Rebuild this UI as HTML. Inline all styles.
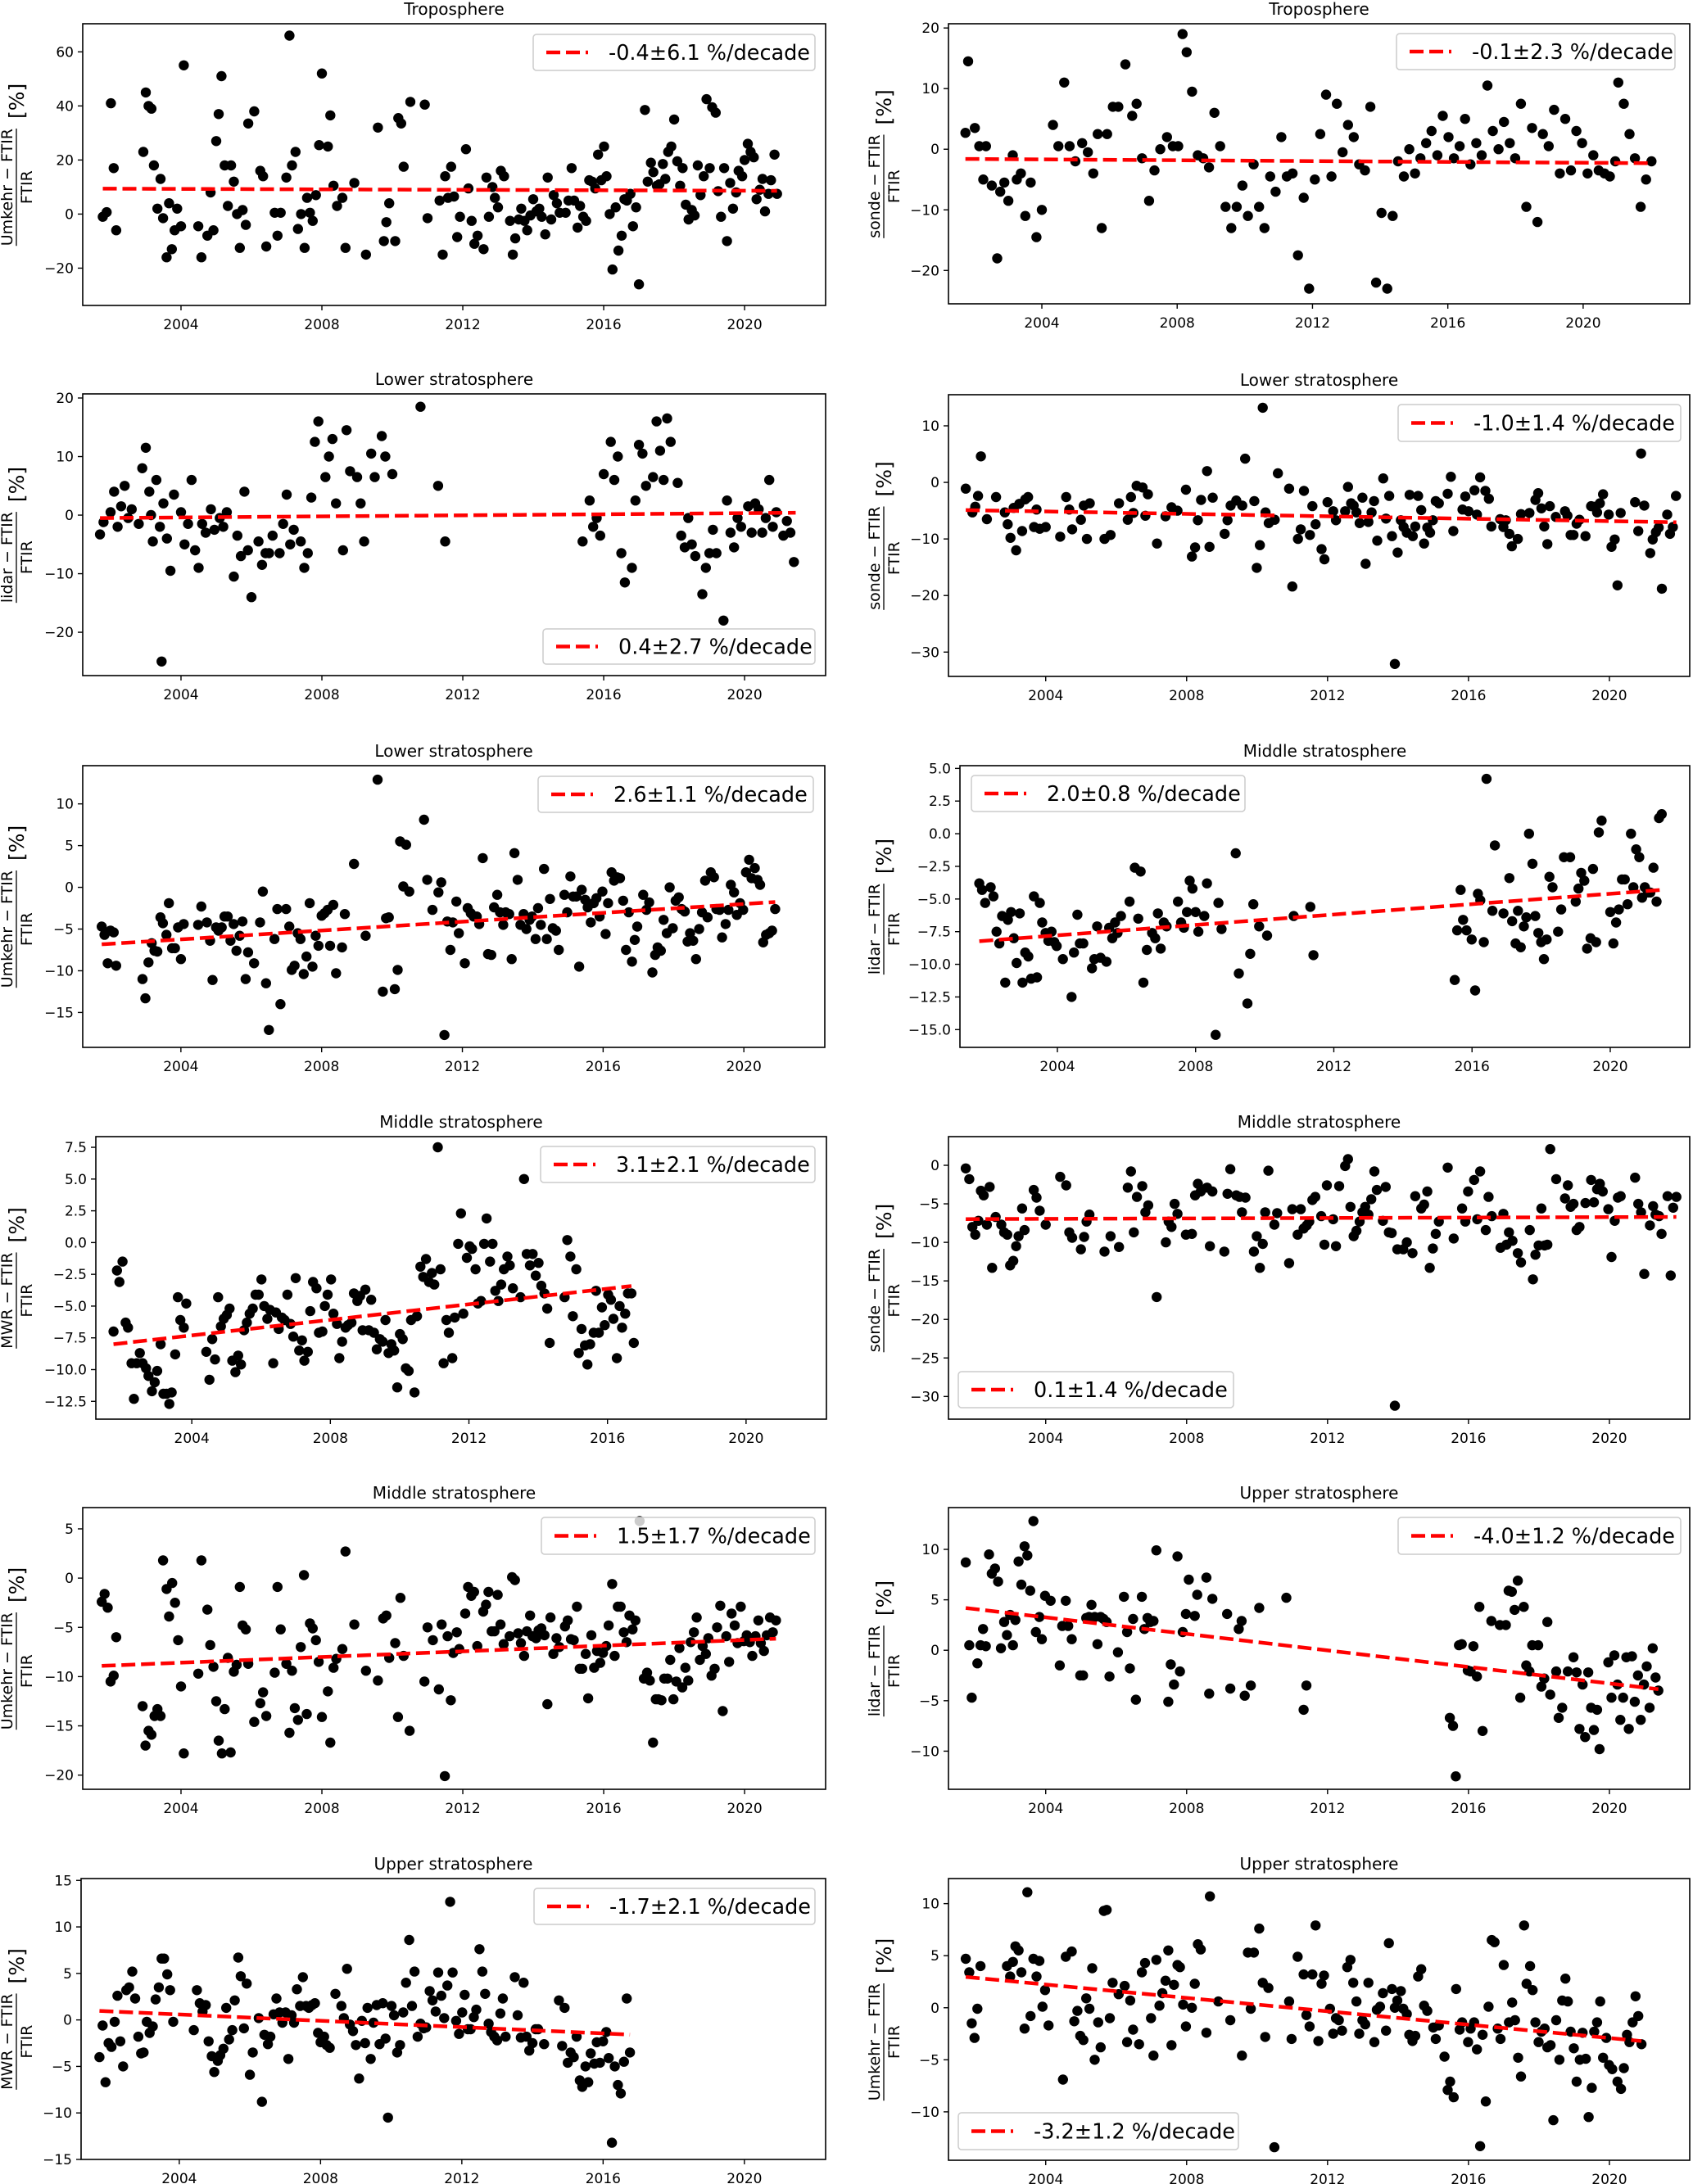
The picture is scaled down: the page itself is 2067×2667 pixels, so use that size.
<!DOCTYPE html>
<html><head><meta charset="utf-8"><title>Ozone comparison trends</title>
<style>
html,body{margin:0;padding:0;background:#fff;}
svg{display:block;font-family:"DejaVu Sans","Liberation Sans",sans-serif;}
</style></head>
<body>
<svg id="fig" xmlns="http://www.w3.org/2000/svg" width="2067" height="2667" viewBox="0 0 2067 2667">
<rect x="0" y="0" width="2067" height="2667" fill="#fff"/>
</svg>
<script>
// ---------- DATA: [year, value %] ----------
const tropoUmkehrYears=[2001.78,2001.89,2002.01,2002.09,2002.16,2002.93,2003.0,2003.08,2003.16,2003.23,2003.33,2003.42,2003.49,2003.59,2003.66,2003.74,2003.82,2003.89,2004.0,2004.08,2004.49,2004.58,2004.75,2004.84,2004.92,2005.0,2005.07,2005.15,2005.24,2005.33,2005.42,2005.5,2005.59,2005.67,2005.75,2005.84,2005.91,2006.08,2006.25,2006.33,2006.42,2006.66,2006.74,2006.83,2006.99,2007.08,2007.15,2007.25,2007.32,2007.41,2007.51,2007.58,2007.66,2007.74,2007.83,2007.92,2008.0,2008.17,2008.24,2008.33,2008.43,2008.58,2008.67,2008.92,2009.25,2009.59,2009.76,2009.83,2009.91,2010.08,2010.17,2010.25,2010.32,2010.51,2010.92,2011.0,2011.34,2011.43,2011.5,2011.58,2011.67,2011.75,2011.84,2011.92,2012.09,2012.16,2012.25,2012.33,2012.42,2012.59,2012.67,2012.74,2012.84,2012.91,2013.0,2013.08,2013.17,2013.34,2013.42,2013.49,2013.59,2013.66,2013.75,2013.83,2013.92,2014.0,2014.09,2014.17,2014.24,2014.34,2014.41,2014.51,2014.58,2014.67,2014.75,2014.92,2015.0,2015.09,2015.16,2015.26,2015.33,2015.42,2015.5,2015.59,2015.67,2015.76,2015.84,2015.93,2016.01,2016.08,2016.17,2016.25,2016.34,2016.42,2016.51,2016.59,2016.66,2016.76,2016.83,2016.92,2017.0,2017.17,2017.25,2017.34,2017.41,2017.51,2017.58,2017.68,2017.75,2017.83,2017.92,2018.0,2018.09,2018.17,2018.24,2018.33,2018.41,2018.5,2018.58,2018.67,2018.75,2018.84,2018.92,2019.01,2019.08,2019.18,2019.25,2019.33,2019.42,2019.5,2019.59,2019.67,2019.76,2019.83,2019.93,2020.0,2020.09,2020.17,2020.26,2020.34,2020.43,2020.51,2020.58,2020.68,2020.75,2020.85,2020.92];
const tropoUmkehrValues=[-1,0.7,41,17,-6,23,45,40,39,18,2,13,-1.5,-16,4,-13,-6,2,-4.5,55,-4.5,-16,-8,8,-6,27,37,51,18,3,18,12,0,-12.5,1.5,-4,33.5,38,16,14,-12,0.5,-8,0.5,13.5,66,18,23,-5.5,0,-12.5,6,0.5,-2.5,7,25.5,52,25,36.5,10.5,3,6,-12.5,11.5,-15,32,-10,-3,4,-10,35.5,33.5,17.5,41.5,40.5,-1.5,5,-15,14,6,17.5,6.5,-8.5,-1,24,9.5,-2.5,-11,-8,-13,13.5,-1,10,6,2.5,16,14,-2.5,-15,-9,-2,2,-2.5,-6,-0.5,5.5,1,2,-1,-7.5,13.5,-2,7,4,0.5,0.5,5,17,5,-5,3,-1,-2.5,12.5,12,9.5,22,12.5,25,14,0,-20.5,2.5,-13.5,-8,5.5,5,7.5,-4.5,2.5,-26,38.5,12,19,15.5,10.5,11,18.5,13,23,25,35,19.5,10.5,17,3.5,-2,1.5,-0.5,18,7,14,42.5,17,39.5,37.5,8.5,-1,17,-10,11.5,2,8,16,14,20,26,23,21,5.5,9,13,1,7.5,12.5,22,7.5];

const tropoSondePoints=[[2001.74,2.7],[2001.82,14.5],[2002.02,3.5],[2002.15,0.5],[2002.27,-5],[2002.35,0.5],[2002.52,-6],[2002.68,-18],[2002.77,-7],[2002.89,-5.5],[2003.01,-8.5],[2003.14,-1],[2003.26,-5],[2003.38,-4],[2003.51,-11],[2003.67,-5.5],[2003.84,-14.5],[2004.0,-10],[2004.33,4],[2004.49,0.5],[2004.66,11],[2004.82,0.5],[2004.99,-2],[2005.19,1],[2005.36,-0.5],[2005.52,-4],[2005.65,2.5],[2005.77,-13],[2005.93,2.5],[2006.1,7],[2006.26,7],[2006.47,14],[2006.67,5.5],[2006.8,7.5],[2006.96,-1.5],[2007.17,-8.5],[2007.33,-3.5],[2007.5,0],[2007.7,2],[2007.87,0.5],[2008.03,0.5],[2008.16,19],[2008.28,16],[2008.44,9.5],[2008.61,-1],[2008.77,-1.5],[2008.94,-3],[2009.1,6],[2009.27,0.5],[2009.43,-9.5],[2009.6,-13],[2009.76,-9.5],[2009.93,-6],[2010.09,-11],[2010.26,-2.5],[2010.42,-9.5],[2010.58,-13],[2010.75,-4.5],[2010.91,-7],[2011.08,2],[2011.24,-4.5],[2011.41,-4],[2011.57,-17.5],[2011.74,-8],[2011.9,-23],[2012.07,-5],[2012.23,2.5],[2012.4,9],[2012.56,-4.5],[2012.72,7.5],[2012.89,-0.5],[2013.05,4],[2013.22,2],[2013.38,-2.5],[2013.55,-3.5],[2013.71,7],[2013.88,-22],[2014.04,-10.5],[2014.21,-23],[2014.37,-11],[2014.53,-2],[2014.7,-4.5],[2014.86,0],[2015.03,-4],[2015.19,-1.5],[2015.36,1],[2015.52,3],[2015.69,-1],[2015.85,5.5],[2016.02,2],[2016.18,-1.5],[2016.35,0.5],[2016.51,5],[2016.67,-2.5],[2016.84,1],[2017.0,-1],[2017.17,10.5],[2017.33,3],[2017.5,0],[2017.66,4.5],[2017.83,1],[2017.99,-1.5],[2018.16,7.5],[2018.32,-9.5],[2018.49,3.5],[2018.65,-12],[2018.81,2.5],[2018.98,0.5],[2019.14,6.5],[2019.31,-4],[2019.47,5],[2019.64,-3.5],[2019.8,3],[2019.97,1],[2020.13,-4],[2020.3,-1],[2020.46,-3.5],[2020.63,-4],[2020.79,-4.5],[2020.95,-2],[2021.04,11],[2021.2,7.5],[2021.37,2.5],[2021.53,-1.5],[2021.7,-9.5],[2021.86,-5],[2022.02,-2]];

const lowLidarPoints=[[2001.7,-3.3],[2001.8,-1.2],[2002.0,0.5],[2002.1,4],[2002.2,-2],[2002.3,1.5],[2002.4,5],[2002.5,-0.5],[2002.6,1],[2002.8,-1.5],[2002.9,8],[2003.0,11.5],[2003.1,4],[2003.15,0],[2003.2,-4.5],[2003.3,6],[2003.4,-2],[2003.45,-25],[2003.5,2],[2003.6,-4],[2003.7,-9.5],[2003.8,3.5],[2004.0,0.5],[2004.1,-5],[2004.2,-1.5],[2004.3,6],[2004.4,-6],[2004.5,-9],[2004.6,-1.5],[2004.7,-3],[2004.85,1],[2004.95,-2.5],[2005.1,-0.5],[2005.2,-2],[2005.3,0.5],[2005.5,-10.5],[2005.6,-3.5],[2005.7,-7],[2005.8,4],[2005.9,-6],[2006.0,-14],[2006.2,-4.5],[2006.3,-8.5],[2006.4,-6.5],[2006.5,-6.5],[2006.6,-3.5],[2006.8,-6.5],[2006.9,-1.5],[2007.0,3.5],[2007.1,-5],[2007.2,-2.5],[2007.4,-4.5],[2007.5,-9],[2007.6,-6.5],[2007.7,3],[2007.8,12.5],[2007.9,16],[2008.1,6.5],[2008.2,10],[2008.3,13],[2008.4,2],[2008.6,-6],[2008.7,14.5],[2008.8,7.5],[2009.0,6.5],[2009.1,2],[2009.2,-4.5],[2009.4,10.5],[2009.5,6.5],[2009.7,13.5],[2009.8,10],[2010.0,7],[2010.8,18.5],[2011.3,5],[2011.5,-4.5],[2015.4,-4.5],[2015.6,2.5],[2015.7,-2],[2015.8,-0.5],[2015.9,-3.5],[2016.0,7],[2016.2,12.5],[2016.3,6],[2016.4,10],[2016.5,-6.5],[2016.6,-11.5],[2016.8,-9],[2016.9,2.5],[2017.0,12],[2017.1,10.5],[2017.2,5],[2017.4,6.5],[2017.5,16],[2017.6,11],[2017.7,6],[2017.8,16.5],[2017.9,12.5],[2018.1,5.5],[2018.2,-3.5],[2018.3,-5.5],[2018.4,-0.5],[2018.5,-5],[2018.6,-7],[2018.8,-13.5],[2018.9,-9],[2019.0,-6.5],[2019.1,-2.5],[2019.2,-6.5],[2019.4,-18],[2019.5,2.5],[2019.6,-3],[2019.7,-5.5],[2019.8,-0.5],[2019.9,-2],[2020.1,1.5],[2020.2,-3],[2020.3,2],[2020.4,1],[2020.5,-3],[2020.6,-0.5],[2020.7,6],[2020.8,-2],[2020.9,0.5],[2021.1,-3.5],[2021.2,-1],[2021.3,-3],[2021.4,-8]];

const lowSondePoints=[[2001.73,-1.1],[2001.92,-5.3],[2002.0,-4.3],[2002.08,-2.4],[2002.16,4.6],[2002.33,-6.5],[2002.59,-2.6],[2002.84,-5.3],[2002.92,-7.4],[2003.0,-9.8],[2003.09,-4.5],[2003.16,-12],[2003.25,-3.8],[2003.33,-8.6],[2003.42,-3],[2003.5,-2.6],[2003.67,-7.9],[2003.74,-4.8],[2003.83,-8.2],[2004.0,-7.9],[2004.41,-9.6],[2004.58,-2.6],[2004.67,-4.8],[2004.75,-8.3],[2005.0,-6.6],[2005.08,-4.1],[2005.17,-10],[2005.25,-3.7],[2005.67,-10],[2005.84,-9.3],[2006.08,-3.7],[2006.33,-6.6],[2006.42,-2.6],[2006.49,-5.4],[2006.58,-0.6],[2006.75,-0.9],[2006.83,-5.9],[2006.9,-2.1],[2007.16,-10.8],[2007.4,-6],[2007.57,-4.4],[2007.74,-5],[2007.98,-1.3],[2008.15,-13.1],[2008.24,-11.5],[2008.32,-6.7],[2008.41,-3.1],[2008.58,2],[2008.65,-11.4],[2008.74,-2.7],[2009.08,-9.1],[2009.16,-6.7],[2009.25,-4.1],[2009.41,-3.2],[2009.58,-4.1],[2009.66,4.2],[2009.92,-3.3],[2009.99,-15.1],[2010.08,-11.1],[2010.16,13.2],[2010.24,-5.3],[2010.33,-7.2],[2010.5,-6.6],[2010.59,1.6],[2010.91,-1.1],[2011.0,-18.4],[2011.16,-10],[2011.24,-8.3],[2011.33,-1.5],[2011.5,-9.3],[2011.57,-4.2],[2011.66,-7.4],[2011.83,-11.8],[2011.91,-13.6],[2012.0,-3.5],[2012.16,-5.1],[2012.24,-6.7],[2012.5,-5.1],[2012.58,-0.8],[2012.67,-3.7],[2012.74,-4.1],[2012.82,-5.3],[2012.91,-7.2],[2012.99,-2.7],[2013.08,-14.4],[2013.16,-7],[2013.25,-5.3],[2013.32,-3.3],[2013.41,-10.3],[2013.58,0.7],[2013.66,-6.4],[2013.75,-2.4],[2013.83,-9.5],[2013.91,-32.1],[2013.99,-12.4],[2014.08,-6.7],[2014.16,-7.9],[2014.25,-8.9],[2014.33,-2.2],[2014.42,-9.5],[2014.49,-7.8],[2014.57,-2.4],[2014.66,-4.9],[2014.74,-10.8],[2014.83,-8],[2014.91,-8.9],[2014.99,-6.7],[2015.07,-3.3],[2015.16,-3.7],[2015.41,-2],[2015.5,1],[2015.57,-8.6],[2015.83,-4.8],[2015.91,-2.5],[2016.0,-5.1],[2016.17,-1.4],[2016.24,-5.7],[2016.33,0.9],[2016.48,-1.5],[2016.58,-2.9],[2016.65,-7.8],[2016.9,-6.5],[2016.99,-7.9],[2017.06,-6.7],[2017.16,-9.1],[2017.23,-11.3],[2017.4,-10],[2017.49,-5.6],[2017.73,-5.4],[2017.9,-3.1],[2017.98,-1.9],[2018.07,-4.6],[2018.15,-7.8],[2018.24,-10.9],[2018.31,-4.2],[2018.48,-6.1],[2018.74,-5.1],[2018.81,-5.9],[2018.9,-9.3],[2018.98,-9.3],[2019.07,-7.3],[2019.15,-6.6],[2019.32,-9.5],[2019.48,-4.2],[2019.56,-4.3],[2019.65,-5.3],[2019.73,-3.7],[2019.82,-2.1],[2019.98,-5.7],[2020.06,-11.4],[2020.15,-10.1],[2020.23,-18.2],[2020.32,-5.4],[2020.73,-3.5],[2020.82,-8.6],[2020.9,5.1],[2020.99,-4.1],[2021.16,-12.5],[2021.23,-10.1],[2021.32,-8.8],[2021.4,-8],[2021.49,-18.8],[2021.64,-5.7],[2021.72,-9.1],[2021.8,-7.9],[2021.89,-2.4]];

const lowUmkehrPoints=[[2001.75,-4.7],[2001.83,-5.7],[2001.92,-9.1],[2002.0,-5.2],[2002.09,-5.4],[2002.16,-9.4],[2002.91,-11],[2002.99,-13.3],[2003.08,-9],[2003.17,-6.7],[2003.25,-7.6],[2003.33,-7.7],[2003.42,-3.6],[2003.49,-4.3],[2003.59,-5.7],[2003.66,-1.9],[2003.75,-7.3],[2003.83,-7.3],[2003.92,-4.8],[2004.0,-8.6],[2004.08,-4.4],[2004.49,-4.5],[2004.58,-2.3],[2004.74,-4.2],[2004.83,-6.4],[2004.9,-11.1],[2005.0,-4.8],[2005.07,-5.2],[2005.16,-4.8],[2005.24,-3.5],[2005.33,-3.5],[2005.41,-6.4],[2005.5,-4.4],[2005.58,-7.6],[2005.67,-5.8],[2005.75,-4.1],[2005.84,-11],[2005.91,-7.8],[2006.08,-9.1],[2006.25,-4.2],[2006.33,-0.5],[2006.42,-11.5],[2006.5,-17.1],[2006.66,-6.2],[2006.74,-2.6],[2006.83,-14],[2006.99,-2.6],[2007.08,-4.7],[2007.15,-9.9],[2007.23,-9.4],[2007.32,-5.5],[2007.4,-6.2],[2007.49,-10.4],[2007.57,-8.3],[2007.66,-1.9],[2007.74,-9.5],[2007.83,-5.8],[2007.91,-7],[2008.0,-3.4],[2008.08,-3.1],[2008.17,-2.7],[2008.24,-7],[2008.33,-2.1],[2008.41,-10.3],[2008.58,-7.2],[2008.66,-3.2],[2008.92,2.8],[2009.25,-5.8],[2009.59,12.9],[2009.74,-12.5],[2009.83,-3.7],[2009.91,-3.6],[2010.08,-12.2],[2010.16,-9.9],[2010.23,5.5],[2010.32,0.1],[2010.4,5.1],[2010.49,-0.5],[2010.91,8.1],[2011.0,0.9],[2011.15,-2.7],[2011.32,-0.6],[2011.4,0.6],[2011.49,-17.7],[2011.57,-4.1],[2011.66,-7.5],[2011.73,-4.2],[2011.83,-1.7],[2011.9,-5.5],[2012.07,-9.1],[2012.15,-2.5],[2012.24,-3.1],[2012.32,-3.5],[2012.41,-3.5],[2012.48,-4.4],[2012.58,3.5],[2012.73,-8],[2012.82,-8.1],[2012.9,-2.4],[2012.99,-0.9],[2013.07,-3],[2013.16,-4.5],[2013.23,-3],[2013.33,-3.2],[2013.4,-8.6],[2013.48,4.1],[2013.57,0.9],[2013.65,-4.5],[2013.74,-3.2],[2013.82,-5],[2013.91,-3.9],[2013.98,-3.5],[2014.08,-6.2],[2014.15,-2.5],[2014.23,-4.5],[2014.32,2.2],[2014.4,-6.2],[2014.49,-1.4],[2014.57,-4.9],[2014.66,-5.2],[2014.74,-7.5],[2014.9,-0.9],[2014.98,-3],[2015.07,1.3],[2015.15,-1.1],[2015.24,-1.1],[2015.32,-9.5],[2015.39,-0.3],[2015.49,-1.5],[2015.56,-2.4],[2015.65,-4.2],[2015.73,-1.9],[2015.81,-1.3],[2015.9,-3.5],[2015.98,-0.5],[2016.07,-5.6],[2016.14,-1.9],[2016.24,1.8],[2016.31,0.8],[2016.4,1.2],[2016.48,1.1],[2016.57,-1.6],[2016.65,-7.5],[2016.73,-3],[2016.82,-8.9],[2016.9,-6.3],[2016.97,-4.7],[2017.14,-0.9],[2017.23,-2.7],[2017.31,-1.8],[2017.4,-10.2],[2017.48,-8.1],[2017.55,-7.2],[2017.64,-7.6],[2017.72,-3.9],[2017.81,-5.5],[2017.89,0],[2017.98,-4.9],[2018.06,-1.6],[2018.15,-1.2],[2018.23,-2.6],[2018.32,-2.9],[2018.4,-6.5],[2018.47,-5.5],[2018.56,-6.4],[2018.64,-8.6],[2018.73,-5],[2018.81,-3],[2018.9,0.8],[2018.97,-3.6],[2019.06,1.8],[2019.15,1.2],[2019.22,-2.6],[2019.31,-2.7],[2019.38,-6],[2019.48,-4.4],[2019.56,-2.7],[2019.63,0.3],[2019.72,-0.6],[2019.8,-3.3],[2019.89,-1.9],[2019.98,-2.7],[2020.06,1.8],[2020.15,3.3],[2020.22,1.1],[2020.31,2.3],[2020.39,0.9],[2020.46,0.3],[2020.55,-6.6],[2020.63,-5.7],[2020.72,-5.5],[2020.8,-5.2],[2020.89,-2.6]];

const midLidarPoints=[[2001.74,-3.8],[2001.82,-4.3],[2001.91,-5.3],[2002.07,-4.1],[2002.15,-4.8],[2002.24,-7.5],[2002.32,-8.4],[2002.4,-6.3],[2002.49,-11.4],[2002.57,-6.6],[2002.66,-6],[2002.74,-8],[2002.82,-9.9],[2002.91,-6.1],[2002.99,-11.4],[2003.07,-9.1],[2003.16,-9.4],[2003.24,-11.1],[2003.32,-4.8],[2003.41,-11],[2003.49,-5.3],[2003.56,-6.8],[2003.66,-7.6],[2003.74,-8.2],[2003.83,-7.5],[2003.91,-8.3],[2003.98,-8.6],[2004.16,-9.6],[2004.41,-12.5],[2004.48,-9.1],[2004.58,-6.2],[2004.65,-8.4],[2004.75,-8.4],[2005.0,-10.3],[2005.07,-9.6],[2005.15,-7.1],[2005.25,-9.5],[2005.42,-9.8],[2005.5,-7.2],[2005.59,-8],[2005.67,-6.8],[2005.74,-7.6],[2005.84,-6.3],[2006.09,-5.2],[2006.24,-2.6],[2006.34,-6.5],[2006.41,-2.9],[2006.49,-11.4],[2006.59,-8.9],[2006.74,-7.6],[2006.83,-8],[2006.91,-6.1],[2006.99,-8.8],[2007.08,-6.8],[2007.16,-7.1],[2007.49,-5.2],[2007.58,-6.8],[2007.66,-7.2],[2007.75,-6],[2007.83,-3.6],[2007.91,-4.2],[2008.0,-6],[2008.08,-7.5],[2008.25,-6.3],[2008.33,-3.8],[2008.58,-15.4],[2008.66,-5.3],[2008.75,-7.3],[2009.16,-1.5],[2009.25,-10.7],[2009.5,-13],[2009.58,-9.2],[2009.67,-5.4],[2009.84,-7.1],[2010.07,-7.8],[2010.84,-6.3],[2011.32,-5.6],[2011.41,-9.3],[2015.5,-11.2],[2015.57,-7.4],[2015.67,-4.3],[2015.74,-6.6],[2015.84,-7.4],[2015.99,-8.1],[2016.09,-12],[2016.17,-4.6],[2016.24,-5.1],[2016.34,-8.3],[2016.42,4.2],[2016.59,-5.9],[2016.66,-0.9],[2016.91,-6.1],[2017.08,-3.4],[2017.16,-6.7],[2017.26,-8.4],[2017.33,-5.9],[2017.41,-8.7],[2017.5,-7.1],[2017.57,-6.4],[2017.65,0],[2017.75,-2.3],[2017.83,-6.3],[2017.92,-7.6],[2018.0,-8.3],[2018.08,-9.6],[2018.16,-8.1],[2018.24,-3.3],[2018.33,-4.1],[2018.49,-7.5],[2018.58,-5.8],[2018.66,-1.8],[2018.84,-1.8],[2019.0,-5.2],[2019.08,-4.2],[2019.16,-3],[2019.25,-3.6],[2019.33,-8.8],[2019.43,-8],[2019.5,-2.7],[2019.59,-8.3],[2019.67,0.1],[2019.75,1],[2020.0,-6],[2020.09,-8.4],[2020.17,-6.8],[2020.25,-5.8],[2020.34,-3.5],[2020.42,-3.5],[2020.5,-5.4],[2020.6,0],[2020.67,-4.1],[2020.75,-1.2],[2020.84,-1.8],[2020.92,-4.9],[2021.0,-4.1],[2021.09,-4.5],[2021.16,-4.5],[2021.25,-2.6],[2021.34,-5.2],[2021.41,1.2],[2021.49,1.5]];

const midMwrPoints=[[2001.74,-7],[2001.84,-2.2],[2001.91,-3.1],[2002.0,-1.5],[2002.09,-6.3],[2002.16,-6.7],[2002.26,-9.5],[2002.33,-12.3],[2002.41,-9.5],[2002.5,-8.7],[2002.58,-9.5],[2002.68,-9.9],[2002.75,-10.5],[2002.85,-11.7],[2002.93,-11],[2003.0,-10.1],[2003.1,-8],[2003.18,-11.9],[2003.27,-11.9],[2003.35,-12.7],[2003.42,-11.8],[2003.52,-8.8],[2003.6,-4.3],[2003.67,-6.1],[2003.77,-6.7],[2003.84,-4.8],[2004.42,-8.6],[2004.51,-10.8],[2004.59,-7.6],[2004.67,-9.2],[2004.76,-4.3],[2004.84,-6.6],[2004.92,-6],[2005.01,-5.7],[2005.09,-5.2],[2005.17,-9.3],[2005.26,-10.2],[2005.34,-8.9],[2005.42,-9.6],[2005.51,-6.9],[2005.59,-6.3],[2005.67,-5.6],[2005.76,-5.2],[2005.84,-4.1],[2005.93,-4.1],[2006.01,-2.9],[2006.09,-5],[2006.18,-6],[2006.26,-5.3],[2006.35,-9.5],[2006.43,-5.5],[2006.51,-6.8],[2006.6,-5.9],[2006.68,-6.1],[2006.76,-4.1],[2006.85,-6.4],[2006.93,-7.4],[2007.0,-2.8],[2007.1,-8.5],[2007.18,-7.7],[2007.25,-9.3],[2007.35,-8.6],[2007.42,-5.4],[2007.5,-3.1],[2007.6,-3.6],[2007.67,-7.1],[2007.77,-7],[2007.84,-5],[2007.92,-4.1],[2008.02,-2.9],[2008.09,-5.6],[2008.19,-6.4],[2008.26,-9.1],[2008.34,-7.8],[2008.44,-6.7],[2008.51,-6.5],[2008.61,-6.3],[2008.68,-4],[2008.78,-4.6],[2008.86,-4.2],[2008.93,-6.9],[2009.01,-3.7],[2009.11,-6.9],[2009.18,-4.5],[2009.26,-7.1],[2009.34,-8.4],[2009.43,-7.6],[2009.51,-7.8],[2009.59,-6.1],[2009.68,-8.7],[2009.76,-8],[2009.84,-8.5],[2009.93,-11.4],[2010.01,-7.2],[2010.09,-7.6],[2010.18,-9.9],[2010.26,-10.1],[2010.33,-6.1],[2010.43,-11.8],[2010.5,-5.8],[2010.6,-1.9],[2010.68,-2.7],[2010.76,-1.3],[2010.85,-3.1],[2010.93,-2.4],[2011.0,-3.3],[2011.1,7.5],[2011.18,-2.1],[2011.27,-9.5],[2011.35,-6.1],[2011.42,-7.1],[2011.52,-9.1],[2011.59,-5.9],[2011.69,-0.1],[2011.77,2.3],[2011.84,-5.6],[2011.94,-1.2],[2012.02,-0.3],[2012.09,-0.5],[2012.19,-2.1],[2012.26,-4.8],[2012.35,-4.6],[2012.44,-0.1],[2012.51,1.9],[2012.61,-1.5],[2012.68,-0.1],[2012.76,-3.8],[2012.85,-4.6],[2012.93,-3.3],[2013.01,-2.1],[2013.11,-1.1],[2013.18,-1.8],[2013.27,-3.6],[2013.49,-4.3],[2013.59,5],[2013.67,-0.9],[2013.76,-1.8],[2013.84,-0.9],[2013.93,-2.6],[2014.01,-1.6],[2014.09,-3.4],[2014.18,-4],[2014.26,-5.2],[2014.33,-7.9],[2014.76,-4.3],[2014.84,0.2],[2014.93,-1.1],[2015.0,-5.8],[2015.1,-2.1],[2015.17,-8.7],[2015.25,-6.8],[2015.35,-8.1],[2015.42,-9.6],[2015.5,-8],[2015.6,-7.1],[2015.67,-3.8],[2015.75,-7.1],[2015.84,-5.1],[2015.92,-6.5],[2016.02,-4.1],[2016.1,-4.5],[2016.17,-6],[2016.27,-9.1],[2016.35,-5],[2016.42,-6.7],[2016.51,-5.6],[2016.59,-4],[2016.69,-4],[2016.76,-7.9]];

const midSondePoints=[[2001.73,-0.4],[2001.83,-1.8],[2001.92,-8],[2002.0,-9],[2002.09,-7.2],[2002.16,-3.3],[2002.24,-3.9],[2002.33,-7.7],[2002.41,-2.8],[2002.48,-13.3],[2002.58,-6.7],[2002.74,-7.7],[2002.82,-8.7],[2002.91,-9],[2002.99,-13],[2003.08,-12.4],[2003.16,-10.5],[2003.23,-9.2],[2003.33,-5.6],[2003.4,-8.4],[2003.66,-3.2],[2003.74,-4.2],[2003.83,-5.9],[2004.0,-7.7],[2004.41,-1.5],[2004.58,-2.6],[2004.67,-8.7],[2004.75,-9.4],[2005.0,-10.9],[2005.09,-9.3],[2005.16,-7.3],[2005.24,-6.4],[2005.67,-11.2],[2005.84,-9.2],[2006.08,-10.6],[2006.33,-2.9],[2006.42,-0.8],[2006.5,-8.7],[2006.59,-4.1],[2006.74,-2.7],[2006.83,-6.1],[2006.91,-5.2],[2007.15,-17.1],[2007.41,-10],[2007.49,-7.3],[2007.57,-8],[2007.66,-5],[2007.74,-6.3],[2007.98,-9],[2008.15,-8.9],[2008.24,-3.9],[2008.32,-2.4],[2008.4,-3.4],[2008.58,-2.9],[2008.66,-10.5],[2008.73,-3.4],[2009.07,-11.2],[2009.16,-3.7],[2009.24,-0.5],[2009.41,-3.9],[2009.5,-4.1],[2009.57,-6.1],[2009.67,-4.2],[2009.91,-11.2],[2009.99,-9.2],[2010.08,-13.3],[2010.16,-10.2],[2010.23,-6.1],[2010.32,-0.7],[2010.49,-7.7],[2010.57,-6.2],[2010.91,-12.7],[2011.0,-5.7],[2011.15,-9],[2011.24,-5.7],[2011.32,-8.2],[2011.41,-7.8],[2011.48,-7.3],[2011.57,-4.5],[2011.65,-4.1],[2011.82,-6.6],[2011.91,-10.3],[2011.98,-2.6],[2012.16,-7],[2012.24,-10.5],[2012.33,-2.7],[2012.5,-0.1],[2012.58,0.8],[2012.65,-5.4],[2012.74,-9.2],[2012.82,-8.5],[2012.91,-7.3],[2012.99,-6.1],[2013.07,-5.4],[2013.16,-6.4],[2013.24,-4.4],[2013.33,-0.8],[2013.4,-3.2],[2013.57,-7.2],[2013.65,-2.8],[2013.74,-8.7],[2013.82,-8.8],[2013.91,-31.2],[2013.98,-10.9],[2014.15,-10.9],[2014.25,-10],[2014.41,-11.4],[2014.49,-4],[2014.66,-5.6],[2014.74,-5.1],[2014.83,-3.4],[2014.9,-13.3],[2014.99,-10.8],[2015.07,-8.9],[2015.16,-7.3],[2015.41,-0.3],[2015.58,-9.5],[2015.82,-5.6],[2015.91,-7.3],[2015.99,-3.4],[2016.16,-1.9],[2016.25,-7],[2016.33,-0.8],[2016.49,-8.4],[2016.57,-4.1],[2016.66,-6.6],[2016.91,-10.7],[2016.99,-6.3],[2017.08,-10.3],[2017.15,-8.7],[2017.25,-9.8],[2017.4,-11.4],[2017.49,-12.6],[2017.74,-8.4],[2017.83,-14.8],[2017.9,-11.6],[2017.99,-10.4],[2018.07,-5.6],[2018.16,-10.4],[2018.24,-10.3],[2018.32,2.1],[2018.49,-1.8],[2018.74,-4.3],[2018.82,-2.6],[2018.9,-5.4],[2018.98,-5],[2019.07,-8.4],[2019.15,-8],[2019.32,-4.9],[2019.48,-1.9],[2019.56,-4.8],[2019.65,-3.1],[2019.73,-2.4],[2019.81,-3.4],[2019.97,-5.7],[2020.06,-11.9],[2020.15,-7.2],[2020.24,-4.2],[2020.32,-4],[2020.73,-1.6],[2020.82,-5],[2020.9,-6.1],[2020.99,-14.1],[2021.15,-7.8],[2021.24,-5.3],[2021.31,-6.4],[2021.41,-6.6],[2021.48,-8.9],[2021.65,-4],[2021.74,-14.3],[2021.81,-5.5],[2021.9,-4.1]];

const midUmkehrPoints=[[2001.75,-2.4],[2001.83,-1.6],[2001.92,-3],[2002.0,-10.5],[2002.09,-9.9],[2002.16,-6],[2002.91,-13],[2002.99,-17],[2003.08,-15.5],[2003.16,-15.9],[2003.25,-14],[2003.33,-13.3],[2003.42,-14],[2003.49,1.8],[2003.59,-1.1],[2003.66,-3.9],[2003.75,-0.5],[2003.83,-2.5],[2003.92,-6.3],[2004.0,-11],[2004.08,-17.8],[2004.49,-9.7],[2004.58,1.8],[2004.75,-3.2],[2004.83,-6.8],[2004.92,-9],[2005.0,-12.5],[2005.07,-16.5],[2005.16,-17.8],[2005.24,-13.3],[2005.33,-8.1],[2005.41,-17.7],[2005.5,-9.5],[2005.58,-8.8],[2005.67,-0.9],[2005.75,-4.8],[2005.84,-5.2],[2005.91,-8.7],[2006.08,-14.6],[2006.25,-12.7],[2006.33,-11.6],[2006.42,-14],[2006.66,-9.6],[2006.74,-0.9],[2006.83,-5.2],[2006.99,-8.7],[2007.08,-15.7],[2007.15,-9.4],[2007.23,-13.2],[2007.32,-14.4],[2007.4,-7],[2007.49,0.3],[2007.57,-13.8],[2007.66,-4.6],[2007.74,-5.1],[2007.83,-6.3],[2007.91,-8.5],[2008.0,-14.1],[2008.17,-11.5],[2008.24,-16.7],[2008.33,-9.1],[2008.41,-8.2],[2008.58,-7.2],[2008.67,2.7],[2008.92,-4.7],[2009.25,-9.4],[2009.59,-10.4],[2009.74,-4.1],[2009.83,-3.8],[2009.91,-8.1],[2010.08,-6.6],[2010.16,-14.1],[2010.23,-2],[2010.32,-7.9],[2010.49,-15.5],[2010.91,-10.5],[2011.0,-5],[2011.15,-6.3],[2011.32,-11.3],[2011.4,-4.7],[2011.49,-20.1],[2011.57,-5.9],[2011.66,-12.4],[2011.73,-7.6],[2011.83,-5.5],[2011.9,-7.2],[2012.07,-3.6],[2012.15,-0.9],[2012.24,-1.8],[2012.32,-1.4],[2012.41,-6.9],[2012.58,-3.4],[2012.66,-2.7],[2012.73,-1.4],[2012.82,-5.4],[2012.9,-5.4],[2012.99,-1.7],[2013.07,-4.7],[2013.16,-6.7],[2013.33,-5.9],[2013.4,0.1],[2013.48,-0.2],[2013.57,-5.6],[2013.65,-6.6],[2013.74,-7.9],[2013.82,-5.4],[2013.91,-3.8],[2013.98,-5.9],[2014.08,-6.1],[2014.15,-5.3],[2014.23,-5.1],[2014.32,-5.8],[2014.4,-12.8],[2014.49,-4],[2014.57,-7.7],[2014.66,-6.1],[2014.74,-7],[2014.9,-4.9],[2014.98,-4.3],[2015.07,-6.2],[2015.15,-6.3],[2015.24,-2.9],[2015.32,-9.2],[2015.39,-9.2],[2015.49,-7.7],[2015.56,-12.2],[2015.65,-5.8],[2015.73,-9.1],[2015.81,-7.4],[2015.9,-8.6],[2015.98,-7.6],[2016.07,-6.9],[2016.14,-4.8],[2016.24,-0.6],[2016.31,-7.9],[2016.4,-2.9],[2016.48,-2.9],[2016.57,-5.5],[2016.65,-6.5],[2016.73,-3.8],[2016.82,-5.2],[2016.9,-4.3],[2017.02,5.8],[2017.14,-10.2],[2017.23,-9.6],[2017.31,-10.4],[2017.4,-16.7],[2017.48,-12.3],[2017.55,-12.3],[2017.64,-12.4],[2017.72,-10.2],[2017.81,-10.2],[2017.89,-8.3],[2017.98,-12.3],[2018.06,-10.5],[2018.15,-7.1],[2018.23,-11.1],[2018.32,-9.1],[2018.4,-10.4],[2018.47,-6.5],[2018.56,-5.5],[2018.64,-4],[2018.73,-8.3],[2018.81,-6.9],[2018.9,-7.7],[2018.97,-6.1],[2019.06,-9.9],[2019.15,-9.2],[2019.22,-5],[2019.31,-2.8],[2019.38,-13.5],[2019.48,-5.9],[2019.56,-8.5],[2019.63,-3.6],[2019.72,-4.8],[2019.8,-6.6],[2019.89,-2.9],[2019.98,-6.4],[2020.06,-5.8],[2020.15,-6.5],[2020.22,-7.9],[2020.31,-5.9],[2020.39,-4.3],[2020.46,-6.6],[2020.55,-7.4],[2020.63,-5.8],[2020.72,-4],[2020.8,-5.5],[2020.89,-4.3]];

const upLidarPoints=[[2001.73,8.7],[2001.83,0.5],[2001.9,-4.7],[2002.06,-1.3],[2002.15,0.5],[2002.22,2.1],[2002.3,0.4],[2002.39,9.5],[2002.47,7.6],[2002.56,8.1],[2002.65,6.8],[2002.73,0.2],[2002.82,2.8],[2002.9,1.5],[2002.99,3.5],[2003.07,0.5],[2003.14,3],[2003.23,8.8],[2003.31,6.5],[2003.4,10.3],[2003.48,9.4],[2003.56,5.9],[2003.65,12.8],[2003.72,1.8],[2003.82,3.3],[2003.89,1.1],[2003.98,5.4],[2004.14,4.9],[2004.4,-1.5],[2004.47,2.4],[2004.57,4.9],[2004.64,2.4],[2004.74,1.1],[2004.98,-2.5],[2005.06,-2.5],[2005.15,3.2],[2005.23,3.3],[2005.3,4.5],[2005.39,3.3],[2005.47,0.6],[2005.56,3.3],[2005.64,3.1],[2005.73,2.8],[2005.81,-2.6],[2006.05,-0.2],[2006.22,5.3],[2006.31,1.8],[2006.39,-1.8],[2006.48,3.1],[2006.56,-4.9],[2006.73,5.3],[2006.8,2.1],[2006.89,3.2],[2006.97,2.8],[2007.06,2.9],[2007.14,9.9],[2007.48,-5.1],[2007.55,-1.4],[2007.64,-3.4],[2007.74,9.3],[2007.81,-2.1],[2007.89,1.8],[2007.98,3.6],[2008.06,7],[2008.23,3.4],[2008.3,5.5],[2008.56,7.2],[2008.64,-4.3],[2008.73,5.1],[2009.15,3.6],[2009.24,-3.8],[2009.48,2.1],[2009.56,2.9],[2009.65,-4.5],[2009.82,-3.5],[2010.06,4.2],[2010.83,5.2],[2011.32,-5.9],[2011.4,-3.5],[2015.47,-6.7],[2015.56,-7.5],[2015.64,-12.5],[2015.73,0.5],[2015.81,0.6],[2015.98,-2],[2016.06,-2.1],[2016.14,0.4],[2016.24,-2.6],[2016.31,4.3],[2016.4,-8],[2016.65,2.9],[2016.89,2.5],[2017.06,2.5],[2017.14,5.9],[2017.23,5.8],[2017.31,4],[2017.4,6.9],[2017.47,-4.7],[2017.57,4.3],[2017.64,-1.5],[2017.73,-2.1],[2017.81,0.5],[2017.98,0.5],[2018.07,-3.6],[2018.15,-2.8],[2018.24,2.8],[2018.32,-4.4],[2018.49,-2.1],[2018.56,-6.7],[2018.66,-5.7],[2018.82,-2.1],[2018.98,-0.7],[2019.07,-2.2],[2019.15,-7.8],[2019.24,-3.4],[2019.31,-8.6],[2019.4,-2.2],[2019.48,-5.7],[2019.56,-7.9],[2019.65,-5.9],[2019.72,-9.8],[2019.97,-1.2],[2020.06,-4.7],[2020.14,-0.5],[2020.23,-3.4],[2020.31,-6.9],[2020.39,-4.7],[2020.48,-0.7],[2020.55,-7.8],[2020.64,-0.6],[2020.72,-5.1],[2020.81,-2.5],[2020.89,-6.9],[2020.98,-3.4],[2021.06,-1.6],[2021.14,-5.7],[2021.23,0.2],[2021.31,-2.7],[2021.39,-4]];

const upMwrPoints=[[2001.74,-4],[2001.83,-0.6],[2001.91,-6.7],[2002.0,-2.5],[2002.08,-2.9],[2002.17,-0.2],[2002.25,2.6],[2002.33,-2.3],[2002.41,-5],[2002.5,3.2],[2002.58,3.5],[2002.67,5.2],[2002.75,2.3],[2002.84,-1.8],[2002.92,-3.6],[2002.99,-3.5],[2003.08,-0.2],[2003.16,-1.4],[2003.25,-0.7],[2003.33,2.2],[2003.42,3.5],[2003.5,6.6],[2003.57,6.6],[2003.66,4.9],[2003.74,3.2],[2003.83,-0.2],[2004.41,-1.1],[2004.5,3.2],[2004.58,1.8],[2004.66,0.9],[2004.75,1.6],[2004.83,-2.3],[2004.92,-3.9],[2004.99,-5.6],[2005.09,-4.4],[2005.16,-3.8],[2005.25,-3.1],[2005.33,1.3],[2005.41,-2.1],[2005.5,-1.1],[2005.57,2.1],[2005.67,6.7],[2005.74,4.7],[2005.83,-0.9],[2005.91,3.9],[2006.0,-5.9],[2006.08,-3.5],[2006.25,0.2],[2006.34,-8.8],[2006.41,-1.6],[2006.51,-2.6],[2006.58,-1.8],[2006.67,0.6],[2006.75,2.3],[2006.84,0.8],[2006.92,-0.3],[2007.01,0.8],[2007.09,-4.2],[2007.18,0.5],[2007.25,-0.3],[2007.33,3.3],[2007.42,1.5],[2007.5,4.6],[2007.59,1.5],[2007.67,1.3],[2007.76,1.6],[2007.84,1.8],[2007.93,-1.4],[2008.0,-2.4],[2008.1,-1.8],[2008.17,-2.7],[2008.26,-3],[2008.42,2.8],[2008.59,1.5],[2008.66,0.2],[2008.75,5.5],[2008.83,-0.5],[2008.92,-1.2],[2009.0,-2.7],[2009.09,-6.3],[2009.17,-0.1],[2009.26,-2.5],[2009.33,1.3],[2009.42,-4.2],[2009.5,-0.3],[2009.59,1.6],[2009.67,-2.6],[2009.76,1.8],[2009.84,-2],[2009.91,-10.5],[2010.01,1.5],[2010.08,0.5],[2010.17,-3.5],[2010.25,-2.7],[2010.34,0.8],[2010.42,4],[2010.51,8.6],[2010.59,1.5],[2010.66,5.2],[2010.75,-1.8],[2010.83,-0.4],[2010.92,-0.9],[2010.99,-0.8],[2011.09,3.1],[2011.17,2.1],[2011.26,0.9],[2011.33,5.1],[2011.42,2.6],[2011.5,0.2],[2011.59,3.7],[2011.67,12.7],[2011.74,5.1],[2011.84,-0.1],[2011.92,-1.5],[2012.01,0.8],[2012.08,2.7],[2012.17,-1],[2012.25,-1],[2012.34,0.3],[2012.41,1.1],[2012.5,7.6],[2012.58,5.2],[2012.66,2.8],[2012.76,-0.4],[2012.83,-1.3],[2012.92,-1.8],[2013.0,-2.2],[2013.09,0.7],[2013.16,2.3],[2013.24,-1.8],[2013.5,4.6],[2013.58,0.5],[2013.67,-1.9],[2013.75,4],[2013.83,-1.8],[2013.91,-3.3],[2014.0,-2.5],[2014.09,-1],[2014.16,-1],[2014.33,-2.6],[2014.75,2.1],[2014.84,-2.8],[2014.91,1.3],[2015.0,-4.6],[2015.08,-3.5],[2015.17,-4],[2015.25,-1.8],[2015.34,-6.5],[2015.41,-7.2],[2015.5,-5],[2015.58,-6.7],[2015.65,-3.6],[2015.75,-4.7],[2015.82,-2.4],[2015.91,-4.6],[2016.0,-2.3],[2016.09,-1.3],[2016.16,-4.1],[2016.25,-13.2],[2016.33,-5],[2016.42,-7],[2016.5,-7.9],[2016.59,-4.5],[2016.67,2.3],[2016.76,-3.5]];

const upUmkehrPoints=[[2001.73,4.7],[2001.83,3.4],[2001.9,-1.5],[2001.98,-2.9],[2002.06,-0.1],[2002.15,4],[2002.9,4],[2002.99,3],[2003.07,4.4],[2003.14,5.9],[2003.23,5.5],[2003.31,3.4],[2003.4,-2],[2003.48,11.1],[2003.57,-0.8],[2003.65,4.7],[2003.74,3],[2003.82,4.5],[2003.91,0.1],[2003.98,1.7],[2004.08,-1.7],[2004.49,-6.9],[2004.57,4.9],[2004.74,5.4],[2004.81,-1.3],[2004.9,-0.3],[2004.98,-2.7],[2005.07,-3.1],[2005.15,0.9],[2005.24,-0.1],[2005.32,3.8],[2005.39,-5],[2005.49,-1.4],[2005.56,-3.8],[2005.65,9.3],[2005.73,9.4],[2005.82,-1],[2005.9,2.4],[2006.07,1.3],[2006.24,2.1],[2006.31,-3.3],[2006.4,0.7],[2006.48,-2.1],[2006.65,-3.5],[2006.73,3.4],[2006.82,4.3],[2006.99,-1],[2007.06,-4.6],[2007.14,4.6],[2007.23,0.2],[2007.31,1.4],[2007.4,2.6],[2007.48,5.5],[2007.57,-3.6],[2007.64,2.2],[2007.74,4.1],[2007.81,3.9],[2007.9,0.3],[2007.98,-1.8],[2008.15,0],[2008.23,2.3],[2008.32,6.1],[2008.4,5.6],[2008.56,-2.4],[2008.66,10.7],[2008.9,0.6],[2009.24,-1.2],[2009.57,-4.6],[2009.74,5.3],[2009.82,-0.1],[2009.91,5.3],[2010.06,7.6],[2010.16,2.4],[2010.23,-2.8],[2010.32,1.9],[2010.49,-13.4],[2010.91,0.6],[2010.98,-3],[2011.15,4.9],[2011.32,3.2],[2011.4,-0.7],[2011.49,-1.8],[2011.57,3.2],[2011.66,7.9],[2011.74,-3.2],[2011.83,2.3],[2011.9,3.1],[2012.07,-0.1],[2012.16,-2.5],[2012.24,-1],[2012.32,-1.2],[2012.41,-2.2],[2012.56,3.9],[2012.65,4.6],[2012.73,2.4],[2012.82,0.6],[2012.9,-2.5],[2012.99,-1.2],[2013.07,-1.6],[2013.16,2.4],[2013.33,-3.3],[2013.4,-0.2],[2013.49,0.1],[2013.57,1.4],[2013.66,-2.2],[2013.74,6.2],[2013.83,1.8],[2013.91,0],[2013.98,0.7],[2014.08,1.6],[2014.15,-0.1],[2014.25,-0.6],[2014.32,-2.6],[2014.41,-3.2],[2014.49,-2.7],[2014.57,3],[2014.66,3.7],[2014.74,0.2],[2014.83,-0.3],[2015.0,-1.9],[2015.07,-3],[2015.16,-1.7],[2015.32,-4.7],[2015.41,-7.9],[2015.48,-7.1],[2015.58,-8.6],[2015.65,1.8],[2015.75,-2.1],[2015.82,-1.4],[2015.99,-3.3],[2016.06,-2],[2016.16,-1.4],[2016.24,-4],[2016.33,-13.3],[2016.4,-2.6],[2016.49,-9],[2016.57,0.1],[2016.66,6.5],[2016.74,6.3],[2016.83,-2],[2016.91,-3],[2017.0,4.1],[2017.15,-1.4],[2017.24,0.5],[2017.32,-1.2],[2017.41,-4.8],[2017.49,-6.6],[2017.58,7.9],[2017.65,2.3],[2017.75,4],[2017.82,1.7],[2017.9,-1.4],[2017.99,-3.3],[2018.07,-2.3],[2018.16,-2],[2018.24,-3.8],[2018.33,-3.6],[2018.41,-10.8],[2018.49,-1.2],[2018.58,-5],[2018.66,0.7],[2018.75,2.8],[2018.82,0.6],[2018.9,-2.3],[2018.99,-3.9],[2019.07,-7.1],[2019.16,-5],[2019.24,-2.4],[2019.33,-4.9],[2019.41,-10.5],[2019.5,-7.7],[2019.57,-2.3],[2019.65,-1.4],[2019.74,0.6],[2019.82,-4.8],[2019.91,-2.9],[2019.99,-5.5],[2020.08,-5.9],[2020.23,-7.1],[2020.33,-7.8],[2020.41,-5.8],[2020.5,-2.6],[2020.57,-3.3],[2020.66,-1.4],[2020.74,1.1],[2020.82,-0.8],[2020.91,-3.5]];

// trend line endpoints [startYear, endYear] and [startValue, endValue]
const trendYears={l1:[2001.78,2020.92],r1:[2001.74,2022.02],l2:[2001.7,2021.45],r2:[2001.73,2021.9],l3:[2001.75,2020.89],r3:[2001.74,2021.49],l4:[2001.74,2016.69],r4:[2001.73,2021.9],l5:[2001.75,2020.89],r5:[2001.73,2021.39],l6:[2001.74,2016.76],r6:[2001.73,2020.91]};
const trendValues={l1:[9.4,8.6],r1:[-1.6,-2.3],l2:[-0.5,0.4],r2:[-4.9,-7.05],l3:[-6.83,-1.76],r3:[-8.23,-4.3],l4:[-8.0,-3.42],r4:[-6.98,-6.7],l5:[-8.91,-6.15],r5:[4.19,-3.86],l6:[0.97,-1.58],r6:[2.96,-3.2]};
const trendLabels={l1:"-0.4±6.1 %/decade",r1:"-0.1±2.3 %/decade",l2:"0.4±2.7 %/decade",r2:"-1.0±1.4 %/decade",l3:"2.6±1.1 %/decade",r3:"2.0±0.8 %/decade",l4:"3.1±2.1 %/decade",r4:"0.1±1.4 %/decade",l5:"1.5±1.7 %/decade",r5:"-4.0±1.2 %/decade",l6:"-1.7±2.1 %/decade",r6:"-3.2±1.2 %/decade"};
const xTicks=[2004,2008,2012,2016,2020];
const yTicks={l1:[-20,0,20,40,60],r1:[-20,-10,0,10,20],l2:[-20,-10,0,10,20],r2:[-30,-20,-10,0,10],l3:[-15,-10,-5,0,5,10],r3:[-15,-12.5,-10,-7.5,-5,-2.5,0,2.5,5],l4:[-12.5,-10,-7.5,-5,-2.5,0,2.5,5,7.5],r4:[-30,-25,-20,-15,-10,-5,0],l5:[-20,-15,-10,-5,0,5],r5:[-10,-5,0,5,10],l6:[-15,-10,-5,0,5,10,15],r6:[-10,-5,0,5,10]};
const titles={l1:"Troposphere",r1:"Troposphere",l2:"Lower stratosphere",r2:"Lower stratosphere",l3:"Lower stratosphere",r3:"Middle stratosphere",l4:"Middle stratosphere",r4:"Middle stratosphere",l5:"Middle stratosphere",r5:"Upper stratosphere",l6:"Upper stratosphere",r6:"Upper stratosphere"};
const instruments={l1:"Umkehr",r1:"sonde",l2:"lidar",r2:"sonde",l3:"Umkehr",r3:"lidar",l4:"MWR",r4:"sonde",l5:"Umkehr",r5:"lidar",l6:"MWR",r6:"Umkehr"};
const decimalTicks={r3:1,l4:1};

// ---------- LAYOUT (pixels, not data) ----------
const layout={
 l1:{L:101,R:1008,T:29,B:373,x0:2001.21,x1:2022.30,y0:-33.8,y1:70.4,leg:[651,42,995,86],lab:20},
 r1:{L:1158,R:2063,T:29,B:371,x0:2001.24,x1:2023.15,y0:-25.5,y1:20.7,leg:[1705,41,2045,85],lab:1079},
 l2:{L:101,R:1008,T:481,B:825,x0:2001.21,x1:2022.30,y0:-27.4,y1:20.7,leg:[663,768,995,811],lab:20},
 r2:{L:1158,R:2063,T:482,B:826,x0:2001.24,x1:2022.28,y0:-34.3,y1:15.5,leg:[1707,494,2052,539],lab:1079},
 l3:{L:101,R:1007,T:935,B:1279,x0:2001.21,x1:2022.30,y0:-19.18,y1:14.58,leg:[657,948,993,992],lab:20},
 r3:{L:1172,R:2063,T:935,B:1279,x0:2001.18,x1:2022.3,y0:-16.36,y1:5.21,leg:[1186,947,1520,991],lab:1079},
 l4:{L:117,R:1009,T:1388,B:1733,x0:2001.23,x1:2022.32,y0:-13.9,y1:8.34,leg:[660,1400,995,1444],lab:20},
 r4:{L:1158,R:2063,T:1388,B:1733,x0:2001.24,x1:2022.28,y0:-32.94,y1:3.72,leg:[1170,1675,1506,1719],lab:1079},
 l5:{L:101,R:1008,T:1841,B:2185,x0:2001.21,x1:2022.30,y0:-21.44,y1:7.16,leg:[661,1853,995,1898],lab:20},
 r5:{L:1158,R:2063,T:1841,B:2185,x0:2001.24,x1:2022.28,y0:-13.78,y1:14.14,leg:[1707,1853,2052,1898],lab:1079},
 l6:{L:99,R:1008,T:2294,B:2637,x0:2001.22,x1:2022.3,y0:-15,y1:15.2,leg:[652,2306,995,2350],lab:20},
 r6:{L:1158,R:2063,T:2294,B:2638,x0:2001.24,x1:2022.28,y0:-14.65,y1:12.41,leg:[1170,2580,1512,2625],lab:1079}
};

const NS="http://www.w3.org/2000/svg";
const svg=document.getElementById('fig');
function el(tag,attrs,parent){const e=document.createElementNS(NS,tag);for(const k in attrs)e.setAttribute(k,attrs[k]);(parent||svg).appendChild(e);return e;}
function fmt(v,dec){let s=dec?v.toFixed(dec):String(v);return s.replace('-','\u2212');}

const tropoUmkehrPoints=tropoUmkehrYears.map((yr,i)=>[yr,tropoUmkehrValues[i]]);
const seriesByPanel={l1:tropoUmkehrPoints,r1:tropoSondePoints,l2:lowLidarPoints,r2:lowSondePoints,l3:lowUmkehrPoints,r3:midLidarPoints,l4:midMwrPoints,r4:midSondePoints,l5:midUmkehrPoints,r5:upLidarPoints,l6:upMwrPoints,r6:upUmkehrPoints};

for(const id in layout){
  const p=layout[id];
  const X=v=>p.L+(v-p.x0)/(p.x1-p.x0)*(p.R-p.L);
  const Y=v=>p.B-(v-p.y0)/(p.y1-p.y0)*(p.B-p.T);
  const g=el('g',{});
  
  

  const t=el('text',{x:(p.L+p.R)/2,y:p.T-11,'text-anchor':'middle','font-size':20,fill:'#000'},g);
  
  
  t.textContent=titles[id];

  const pg=el('g',{},g);
  
  
  for(const pt of seriesByPanel[id]){
    const c=el('circle',{cx:X(pt[0]).toFixed(1),cy:Y(pt[1]).toFixed(1),r:6.2,fill:'#000'},pg);
    
    
  }

  const ty=trendYears[id],tv=trendValues[id];
  const tl=el('line',{x1:X(ty[0]),y1:Y(tv[0]),x2:X(ty[1]),y2:Y(tv[1]),stroke:'#ff0000','stroke-width':4.5,'stroke-dasharray':'17 7'},g);
  
  

  const fr=el('rect',{x:p.L,y:p.T,width:p.R-p.L,height:p.B-p.T,fill:'none',stroke:'#000','stroke-width':1.6},g);
  
  

  const xg=el('g',{},g);
  
  
  for(const yr of xTicks){
    const x=X(yr);
    el('line',{x1:x,y1:p.B,x2:x,y2:p.B+6,stroke:'#000','stroke-width':1.4},xg);
    const lt=el('text',{x:x,y:p.B+29,'text-anchor':'middle','font-size':17,fill:'#000'},xg);
    
    
    lt.textContent=String(yr);
  }
  const yg=el('g',{},g);
  
  
  for(const v of yTicks[id]){
    const y=Y(v);
    el('line',{x1:p.L-6,y1:y,x2:p.L,y2:y,stroke:'#000','stroke-width':1.4},yg);
    const lt=el('text',{x:p.L-11,y:y+6,'text-anchor':'end','font-size':17,fill:'#000'},yg);
    
    
    lt.textContent=fmt(v,decimalTicks[id]);
  }

  const [lx0,ly0,lx1,ly1]=p.leg;
  const lg=el('g',{},g);
  
  
  el('rect',{x:lx0,y:ly0,width:lx1-lx0,height:ly1-ly0,rx:4,fill:'#fff','fill-opacity':0.8,stroke:'#cccccc','stroke-width':1.5},lg);
  const cy=(ly0+ly1)/2;
  el('line',{x1:lx0+16,y1:cy,x2:lx0+67,y2:cy,stroke:'#ff0000','stroke-width':4.5,'stroke-dasharray':'17 7'},lg);
  const ltx=el('text',{x:lx0+92,y:cy+9,'font-size':25.5,fill:'#000'},lg);
  
  
  ltx.textContent=trendLabels[id];

  const cyAx=(p.T+p.B)/2;
  const yl=el('g',{transform:`translate(${p.lab},${cyAx}) rotate(-90)`},g);
  
  
  const num=el('text',{x:0,y:-5,'text-anchor':'middle','font-size':19,fill:'#000'},yl);
  num.textContent=instruments[id]+' \u2212 FTIR';
  const pct=el('text',{x:0,y:9,'text-anchor':'middle','font-size':25,fill:'#000'},yl);
  pct.textContent='[%]';
  const fw=num.getComputedTextLength()||140;
  const pw=pct.getComputedTextLength()||43;
  const total=fw+12+pw;
  const fc=-total/2+fw/2, pc=total/2-pw/2;
  num.setAttribute('x',fc);
  pct.setAttribute('x',pc);
  el('line',{x1:fc-fw/2,y1:0,x2:fc+fw/2,y2:0,stroke:'#000','stroke-width':1.3},yl);
  const den=el('text',{x:fc,y:19,'text-anchor':'middle','font-size':19,fill:'#000'},yl);
  den.textContent='FTIR';
}
</script>
</body></html>
